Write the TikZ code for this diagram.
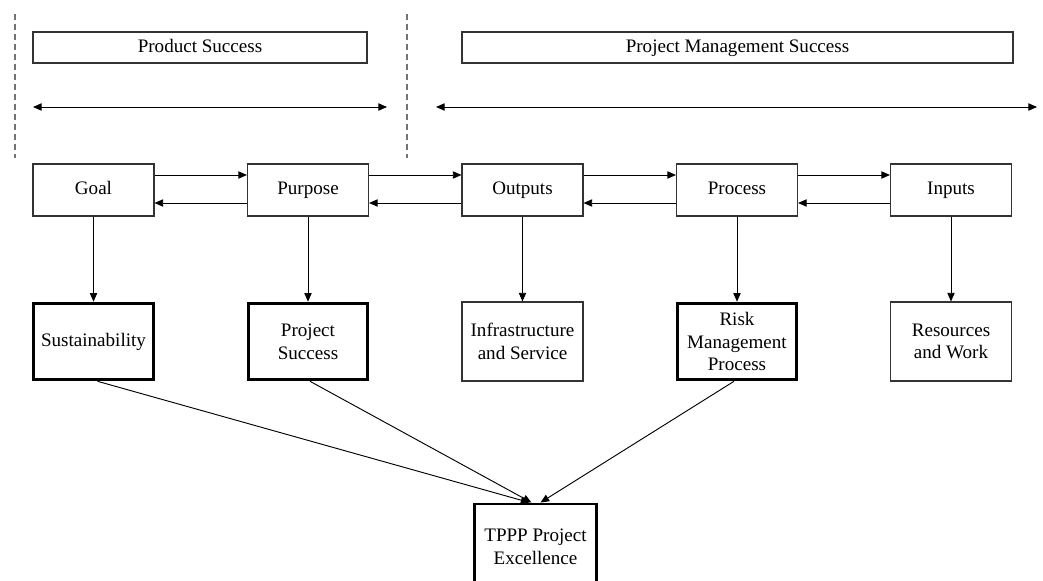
\documentclass[tikz,border=0pt]{standalone}
\usepackage{fontspec}
\setmainfont{Liberation Serif}
\usetikzlibrary{arrows.meta,calc}

\begin{document}
\begin{tikzpicture}[
  x=0.75pt, y=-0.75pt,
  font=\fontsize{14.3}{17}\selectfont,
  tip/.tip={Triangle[length=6.5pt,width=5.5pt]},
  oneline/.style={text height=9.8pt, text depth=3pt},
  box/.style={draw=black!80, line width=0.8pt, rectangle, inner sep=0pt,
    align=center, minimum width=90.75pt, minimum height=39pt},
  lowbox/.style={box, minimum height=59.25pt},
  keybox/.style={lowbox, draw=black, line width=2.2pt, minimum width=89.5pt, minimum height=57.5pt},
  band/.style={draw=black!80, line width=0.8pt, rectangle, inner sep=0pt, minimum height=23.25pt, oneline},
  conn/.style={line width=0.7pt, -tip},
  span/.style={line width=0.7pt, tip-tip},
  divider/.style={draw=black!55, line width=0.8pt, dash pattern=on 4.5pt off 3pt}
]
\clip (0,0) rectangle (1043,581);

% phase dividers
\draw[divider] (15,14) -- (15,158);
\draw[divider] (407,14) -- (407,158);

% success bands
\node[band, minimum width=250.5pt] (prod) at (200,47.5) {Product Success};
\node[band, minimum width=413.25pt] (pms) at (737.5,47.5) {Project Management Success};

% span arrows
\coordinate (pl) at (33,107);
\coordinate (pr) at (387,107);
\coordinate (ml) at (436,107);
\coordinate (mr) at (1037,107);
\draw[span] (pl) -- (pr);
\draw[span] (ml) -- (mr);

% logical framework row
\node[box, oneline] (goal) at (93.5,190) {Goal};
\node[box, oneline] (purp) at (308,190) {Purpose};
\node[box, oneline] (outp) at (522.5,190) {Outputs};
\node[box, oneline] (proc) at (737,190) {Process};
\node[box, oneline] (inp)  at (951,190) {Inputs};

% detail row
\node[keybox, oneline] (sust) at (93.5,341.5) {Sustainability};
\node[keybox] (psucc) at (308,341.5) {Project\\Success};
\node[lowbox] (infra) at (522.5,341.5) {Infrastructure\\and Service};
\node[keybox] (risk) at (737,341.5) {Risk\\Management\\Process};
\node[lowbox] (res) at (951,341.5) {Resources\\and Work};

% final outcome (its lower edge runs past the page)
\node[draw=black, line width=2.2pt, rectangle, inner sep=0pt, align=center,
  minimum width=91pt, minimum height=64.5pt] (tppp) at (535.5,547)
  {TPPP Project\\Excellence};

% forward and backward links
\foreach \a/\b in {goal/purp, purp/outp, outp/proc, proc/inp}{
  \draw[conn] ($(\a.east)+(0,-15)$) -- ($(\b.west)+(0,-15)$);
  \draw[conn] ($(\b.west)+(0,13)$) -- ($(\a.east)+(0,13)$);
}

% downward links
\draw[conn] (goal) -- (sust);
\draw[conn] (purp) -- (psucc);
\draw[conn] (outp) -- (infra);
\draw[conn] (proc) -- (risk);
\draw[conn] (inp) -- (res);

% converging links
\draw[conn] ($(sust.south)+(4,0)$) -- ($(tppp.north)+(-6,0)$);
\draw[conn] ($(psucc.south)+(2,0)$) -- ($(tppp.north)+(-4,0)$);
\draw[conn] ($(risk.south)+(-3,0)$) -- ($(tppp.north)+(5,0)$);
\end{tikzpicture}
\end{document}
